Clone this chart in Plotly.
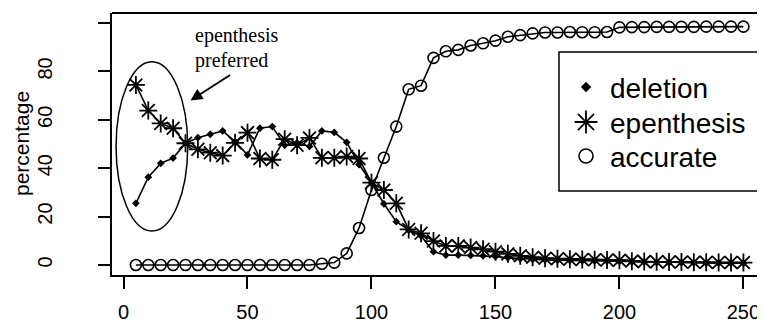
import plotly.graph_objects as go

# ---- data ----
sessions = [5, 10, 15, 20, 25, 30, 35, 40, 45, 50,
            55, 60, 65, 70, 75, 80, 85, 90, 95, 100,
            105, 110, 115, 120, 125, 130, 135, 140, 145, 150,
            155, 160, 165, 170, 175, 180, 185, 190, 195, 200,
            205, 210, 215, 220, 225, 230, 235, 240, 245, 250]

deletion = [25.5, 36.3, 42.0, 44.2, 50.3, 52.6, 54.0, 55.4, 51.0, 45.5,
            56.5, 57.2, 49.5, 50.5, 49.0, 55.4, 54.8, 50.7, 41.5, 34.0,
            25.3, 17.9, 14.5, 12.0, 5.5, 4.1, 4.1, 4.0, 3.8, 3.5,
            3.0, 2.6, 2.3, 2.1, 2.0, 1.9, 1.8, 1.7, 1.6, 1.5,
            1.3, 1.2, 1.1, 1.0, 1.0, 0.9, 0.8, 0.8, 0.7, 0.7]

epenthesis = [74.4, 63.8, 58.5, 56.5, 50.3, 47.8, 46.4, 45.2, 50.5, 54.7,
              44.0, 43.5, 52.0, 49.5, 52.5, 44.3, 44.3, 44.8, 44.0, 34.0,
              31.0, 25.5, 14.7, 13.1, 9.9, 7.9, 7.9, 7.2, 6.5, 5.5,
              4.6, 3.8, 3.2, 2.8, 2.6, 2.4, 2.3, 2.2, 2.1, 2.0,
              1.6, 1.4, 1.3, 1.2, 1.2, 1.1, 1.1, 1.0, 1.0, 1.0]

accurate = [0, 0, 0, 0, 0, 0, 0, 0, 0, 0,
            0, 0, 0, 0, 0, 0.5, 1.0, 4.8, 15.3, 31.0,
            44.3, 57.2, 72.6, 74.1, 85.6, 88.3, 88.9, 90.7, 91.6, 92.7,
            94.3, 95.0, 95.7, 96.1, 96.1, 96.3, 96.2, 96.2, 96.3, 98.2,
            98.3, 98.3, 98.4, 98.4, 98.4, 98.4, 98.5, 98.5, 98.5, 98.5]

x_ticks = [0, 50, 100, 150, 200, 250]
y_ticks = [0, 20, 40, 60, 80, 100]
y_tick_text = ["0", "20", "40", "60", "80", ""]
series_names = ["deletion", "epenthesis", "accurate"]

SANS = "Liberation Sans, Arial, Helvetica, sans-serif"
SERIF = "Liberation Serif, Times New Roman, serif"

# page body has an 8px default margin; size the figure to fill the rest
OFF = 8
W, H = 765 - OFF, 325 - OFF
L, R, T, B = 112 - OFF, 0, 13 - OFF, 325 - 275
PW, PH = W - L - R, H - T - B


def px_x(p):
    """window pixel -> paper x"""
    return (p - OFF - L) / PW


def px_y(p):
    """window pixel -> paper y"""
    return (H - B - (p - OFF)) / PH


fig = go.Figure()
line = dict(color="black", width=1.6)
markers = [
    dict(symbol="diamond", size=6, color="black"),
    dict(symbol="asterisk-open", size=15, color="black", line=dict(width=1.8, color="black")),
    dict(symbol="circle-open", size=11, color="black", line=dict(width=1.6, color="black")),
]
for name, ys, mk in zip(series_names, [deletion, epenthesis, accurate], markers):
    fig.add_trace(go.Scatter(x=sessions, y=ys, mode="lines+markers", line=line,
                             marker=mk, name=name, showlegend=False))

# hand-drawn legend (symbols on an overlay axis in paper units)
legend_markers = [
    dict(symbol="diamond", size=8, color="black"),
    dict(symbol="asterisk-open", size=19, color="black", line=dict(width=1.8, color="black")),
    dict(symbol="circle-open", size=14, color="black", line=dict(width=1.6, color="black")),
]
legend_rows = [87, 122, 156]
for name, mk, row in zip(series_names, legend_markers, legend_rows):
    fig.add_trace(go.Scatter(x=[px_x(586)], y=[px_y(row)], mode="markers", marker=mk,
                             name=name, showlegend=False, xaxis="x2", yaxis="y2",
                             hoverinfo="skip"))

annotations = [
    dict(x=27.0, y=68.0, ax=43.6, ay=78.9, xref="x", yref="y", axref="x", ayref="y",
         text="", showarrow=True, arrowhead=2, arrowsize=1.2, arrowwidth=2,
         arrowcolor="black"),
    dict(x=px_x(193), y=px_y(36), xref="paper", yref="paper", xanchor="left", yanchor="middle",
         showarrow=False, text="epenthesis", font=dict(family=SERIF, size=20, color="black")),
    dict(x=px_x(193), y=px_y(61), xref="paper", yref="paper", xanchor="left", yanchor="middle",
         showarrow=False, text="preferred", font=dict(family=SERIF, size=20, color="black")),
    dict(x=px_x(21), y=0.5, xref="paper", yref="paper", xanchor="center", yanchor="middle",
         textangle=-90, showarrow=False, text="percentage",
         font=dict(family=SANS, size=21, color="black")),
]
for name, row in zip(series_names, legend_rows):
    annotations.append(dict(x=px_x(608), y=px_y(row + 1), xref="paper", yref="paper",
                            xanchor="left", yanchor="middle", showarrow=False, text=name,
                            font=dict(family=SANS, size=28, color="black")))

fig.update_layout(
    template="none",
    width=W, height=H,
    margin=dict(l=L, r=R, t=T, b=B, pad=0, autoexpand=False),
    paper_bgcolor="white", plot_bgcolor="white",
    font=dict(family=SANS, color="black", size=20),
    showlegend=False,
    xaxis=dict(range=[-4.64, 258.7], tickvals=x_ticks, ticktext=[str(v) for v in x_ticks],
               automargin=False,
               showgrid=False, zeroline=False, showline=True, linecolor="black", linewidth=2,
               ticks="outside", ticklen=12, tickwidth=2, tickcolor="black",
               tickfont=dict(family=SANS, size=20), ticklabelstandoff=6),
    yaxis=dict(range=[-4.13, 104.13], tickvals=y_ticks, ticktext=y_tick_text,
               automargin=False,
               showgrid=False, zeroline=False, showline=True, linecolor="black", linewidth=2,
               ticks="outside", ticklen=12, tickwidth=2, tickcolor="black", tickangle=-90,
               tickfont=dict(family=SANS, size=20), ticklabelstandoff=38),
    xaxis2=dict(overlaying="x", range=[0, 1], visible=False, fixedrange=True),
    yaxis2=dict(overlaying="y", range=[0, 1], visible=False, fixedrange=True),
    shapes=[
        # top frame line
        dict(type="line", xref="paper", yref="paper", x0=0, x1=1, y0=1, y1=1,
             line=dict(color="black", width=2)),
        # legend box
        dict(type="rect", xref="paper", yref="paper",
             x0=px_x(559), x1=px_x(760), y0=px_y(191), y1=px_y(52),
             line=dict(color="black", width=1.5)),
        # ellipse around early sessions
        dict(type="circle", xref="x", yref="y", x0=-3.0, x1=25.9, y0=14.0, y1=84.0,
             line=dict(color="black", width=1.5)),
    ],
    annotations=annotations,
)

fig.write_html("out.html")
